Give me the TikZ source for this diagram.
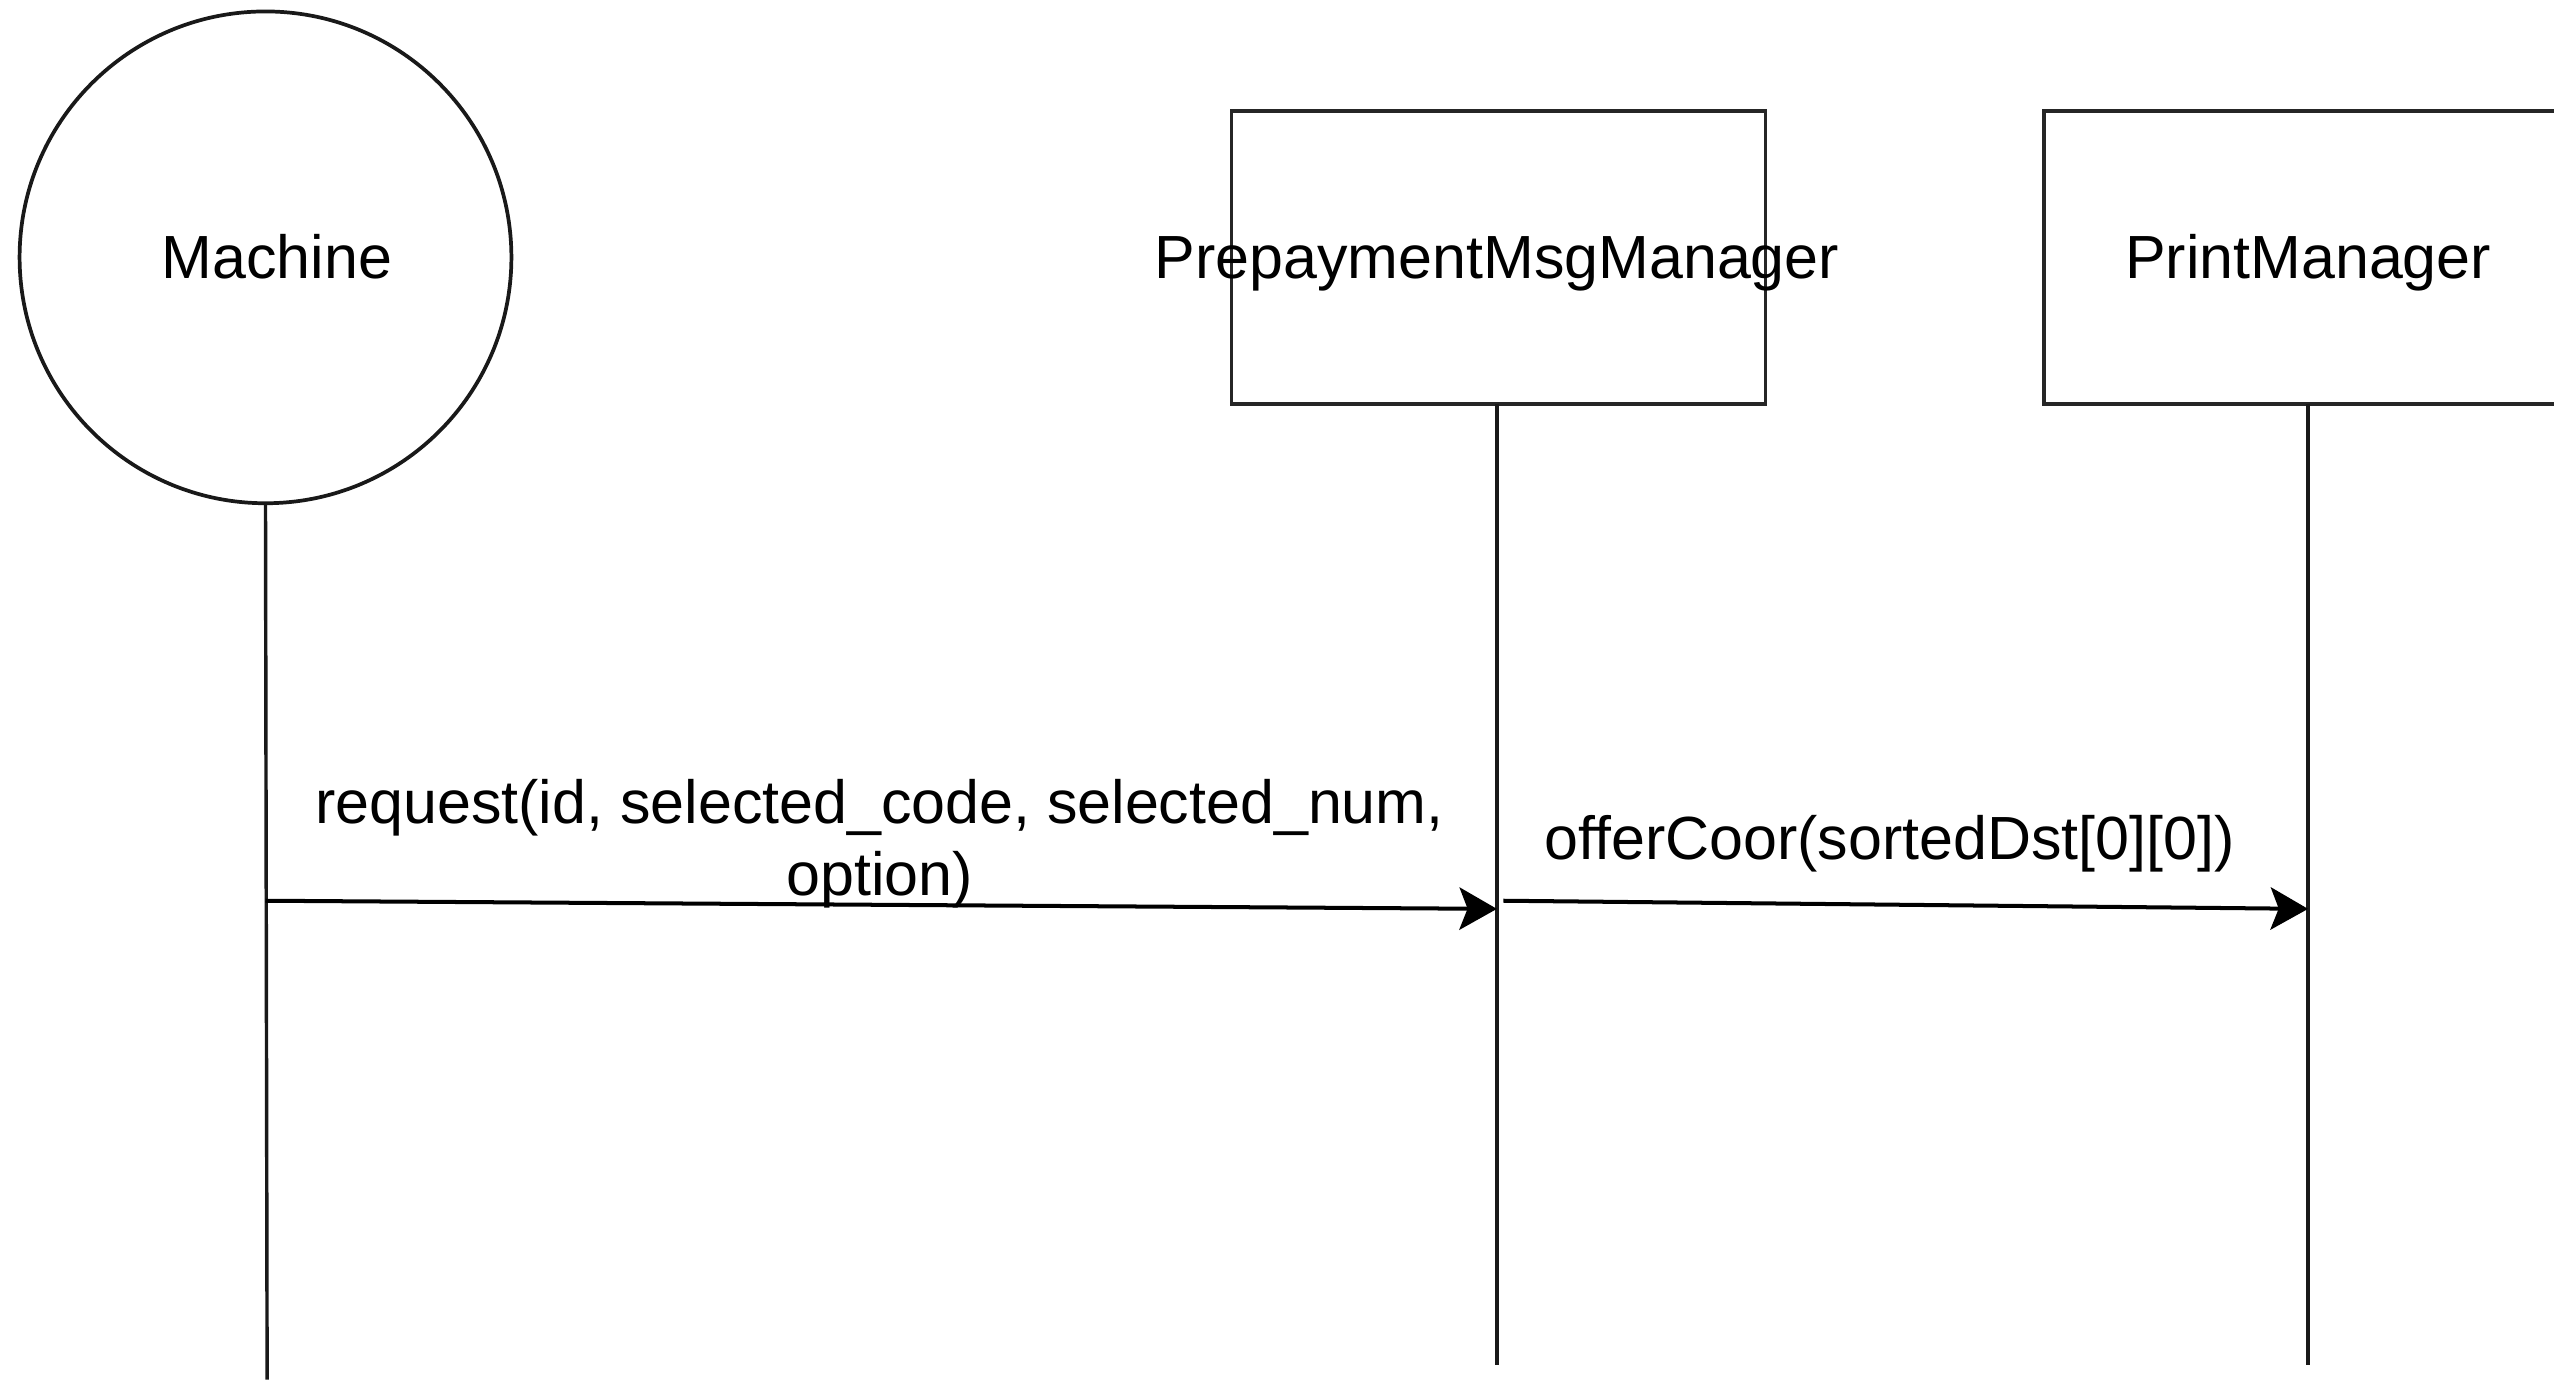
\documentclass[tikz,border=0pt]{standalone}
\usepackage{fontspec}
\setmainfont{Liberation Sans}
\usetikzlibrary{arrows.meta}
\begin{document}
\begin{tikzpicture}[x=0.02cm,y=-0.02cm,
  every node/.style={font=\fontsize{21.3pt}{25.5pt}\selectfont},
  ln/.style={line width=1.2pt, draw=black!90},
  actorbox/.style={draw=black!85, line width=1.3pt, rectangle, minimum width=6.56cm, minimum height=3.6cm, inner sep=0pt},
  msg/.style={line width=1.4pt, -{Stealth[length=0.46cm, width=0.52cm, inset=0.1cm]}}
]
\useasboundingbox (0,0) rectangle (1568,847);
\clip (0,0) rectangle (1568,847);
\fill[white] (0,0) rectangle (1568,847);
% participants
\node[circle, draw=black!90, line width=1.3pt, minimum size=6.04cm, inner sep=0pt] (mach) at (163,158) {};
\node[anchor=base] (machlbl) at (170,171) {Machine};
\node[actorbox] (pmm) at (920,158) {};
\node[anchor=base] (pmmlbl) at (919,171) {PrepaymentMsgManager};
\node[actorbox] (pm) at (1419,158) {};
\node[anchor=base] (pmlbl) at (1417,171) {PrintManager};
% lifeline ends
\coordinate (machend) at (164,847);
\coordinate (pmmtop) at (919,248);
\coordinate (pmmend) at (919,838);
\coordinate (pmtop) at (1417,248);
\coordinate (pmend) at (1417,838);
\draw[ln] (mach.south) -- (machend);
\draw[ln] (pmmtop) -- (pmmend);
\draw[ln] (pmtop) -- (pmend);
% messages
\coordinate (m1s) at (163,553);
\coordinate (m1e) at (919,558);
\coordinate (m2s) at (923,553);
\coordinate (m2e) at (1417,558);
\draw[msg] (m1s) -- (m1e);
\draw[msg] (m2s) -- (m2e);
\node[align=center, inner sep=0pt] (m1lbl) at (540,518) {request(id, selected\_code, selected\_num,\\option)};
\node[inner sep=0pt] (m2lbl) at (1160,518) {offerCoor(sortedDst[0][0])};
\end{tikzpicture}
\end{document}
